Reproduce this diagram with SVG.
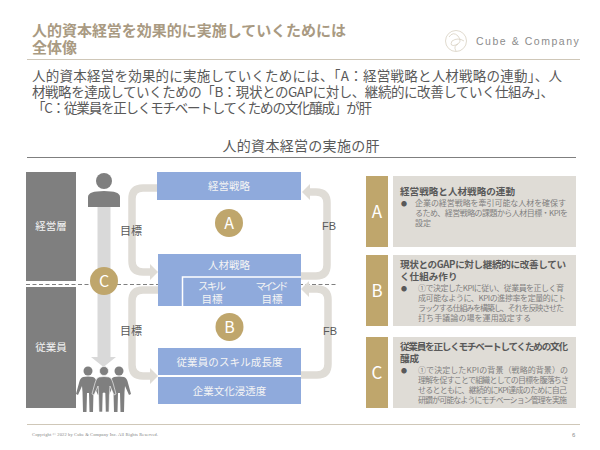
<svg xmlns="http://www.w3.org/2000/svg" width="600" height="450" viewBox="0 0 600 450">
<style>
text{font-family:"Noto Sans CJK JP","Noto Sans",sans-serif}
.title{font-size:15px;font-weight:700;fill:#a99a82}
.body{font-size:13.5px;fill:#595959}
.gray{fill:#7f7f7f}
.blue{fill:#8faadc}
.w{fill:#fff;text-anchor:middle}
.wl{font-size:10.500px;fill:#f4f4f4;text-anchor:middle}
.gold{fill:#bfa66c}
.panel{fill:#dfdcd6}
.pt{font-size:9.600px;font-weight:700;fill:#595959}
.pb{font-size:8px;fill:#7f7f7f}
.bu{font-size:6px;fill:#595959}
.lab{font-size:11px;fill:#595959;text-anchor:middle}
.conn{fill:none;stroke:#dfdcd6;stroke-width:7.500;marker-end:url(#ah)}
</style>
<defs>
<marker id="ah" viewBox="0 0 8 16" refX="1" refY="8" markerUnits="userSpaceOnUse" markerWidth="8" markerHeight="16" orient="auto"><path d="M0 0L8 8L0 16Z" fill="#dfdcd6"/></marker>
<g id="man"><circle cx="0" cy="-28" r="4.500"/><path d="M-5-22Q0-23 5-22Q8-21 9-16L12-5L10-4L6-13L5.500-7L5 13H1.500L1-6H-1L-1.500 13H-5L-5.500-7L-6-13L-10-4L-12-5L-9-16Q-8-21-5-22Z"/></g>
</defs>
<rect width="600" height="450" fill="#fff"/>
<g id="header">
<text class="title" x="32" y="36" textLength="314">人的資本経営を効果的に実施していくためには</text>
<text class="title" x="32" y="52.500">全体像</text>
<g fill="none" stroke="#d8d0c2" stroke-width="0.800"><circle cx="456" cy="41" r="10.500"/><path d="M449 37Q453 31 458 36Q463 42 456 45Q449 47 452 41Q458 37 464 41M456 51Q453 46 458 44"/></g>
<text x="476" y="45" font-size="10.500" letter-spacing="1.200" fill="#8c8c8c" style="font-family:'Liberation Sans',sans-serif" textLength="104">Cube &amp; Company</text>
<line x1="27" y1="59.500" x2="580" y2="59.500" stroke="#cfc7b8" stroke-width="1"/>
</g>
<g id="intro">
<text class="body" x="32" y="81" textLength="530">人的資本経営を効果的に実施していくためには、「A：経営戦略と人材戦略の連動」、人</text>
<text class="body" x="32" y="97" textLength="522">材戦略を達成していくための「B：現状とのGAPに対し、継続的に改善していく仕組み」、</text>
<text class="body" x="32" y="113" textLength="340">「C：従業員を正しくモチベートしてくための文化醸成」が肝</text>
<text x="301" y="151" font-size="14px" fill="#595959" text-anchor="middle" textLength="157">人的資本経営の実施の肝</text>
<line x1="27" y1="157.500" x2="576" y2="157.500" stroke="#7f7f7f" stroke-width="1"/>
</g>
<g id="layers">
<g id="keiei"><rect class="gray" x="26" y="172" width="50" height="109"/><text class="wl" x="51" y="230">経営層</text></g>
<g id="jugyoin"><rect class="gray" x="26" y="287" width="50" height="121"/><text class="wl" x="51" y="351">従業員</text></g>
<line x1="26" y1="284.500" x2="336" y2="284.500" stroke="#7f7f7f" stroke-width="1" stroke-dasharray="4 2.500"/>
</g>
<g id="connectors">
<path d="M104 207V358" stroke="#d9d9d9" stroke-width="13" fill="none"/>
<path d="M91 357H116L103.500 367Z" fill="#d9d9d9"/>
<path class="conn" d="M157 188H143Q132 188 132 199V261Q132 272 143 272H151"/>
<path class="conn" d="M158 290H143Q132 290 132 301V365Q132 376 143 376H151"/>
<path class="conn" d="M301 276H316Q327 276 327 265V203Q327 192 316 192H309"/>
<path class="conn" d="M301 375H317Q328 375 328 364V300Q328 289 317 289H308"/>
</g>
<g id="person" class="gray"><circle cx="104" cy="181" r="8"/><path d="M88 207V197Q88 191 104 191Q120 191 120 197V207Z"/></g>
<g id="people" class="gray"><use href="#man" x="119" y="399"/><use href="#man" x="88" y="399"/><use href="#man" x="104" y="399" stroke="#fff" stroke-width="0.600"/></g>
<g id="c"><circle class="gold" cx="104" cy="281" r="14"/><text class="w" x="104" y="287" font-size="16">C</text></g>
<g id="a"><circle class="gold" cx="229" cy="223" r="14"/><text class="w" x="229" y="229" font-size="16">A</text></g>
<g id="b"><circle class="gold" cx="229.500" cy="327" r="14"/><text class="w" x="229.500" y="333" font-size="16">B</text></g>
<g id="strategy"><rect class="blue" x="157" y="172" width="144" height="28"/><text class="wl" x="229" y="190">経営戦略</text></g>
<g id="hr"><rect class="blue" x="158" y="254" width="143" height="52"/><path d="M182.500 306V277H301" fill="none" stroke="#fff" stroke-width="1.500"/><text class="wl" x="229" y="269">人材戦略</text></g>
<g id="skill"><rect class="blue" x="184.500" y="278" width="55" height="28"/><text class="wl" x="212" y="289.500" textLength="28">スキル</text><text class="wl" x="212" y="303">目標</text></g>
<g id="mind"><rect class="blue" x="244" y="278" width="56" height="28"/><text class="wl" x="272" y="289.500" textLength="33">マインド</text><text class="wl" x="272" y="303">目標</text></g>
<g id="growth"><rect class="blue" x="158" y="348" width="143" height="27"/><text class="wl" x="229.500" y="365.500" textLength="106">従業員のスキル成長度</text></g>
<g id="culture"><rect class="blue" x="158" y="377" width="143" height="27"/><text class="wl" x="229.500" y="395">企業文化浸透度</text></g>
<g id="labels">
<text class="lab" x="131" y="235">目標</text><text class="lab" x="131" y="335">目標</text>
<text class="lab" x="329" y="230" style="font-family:'Liberation Sans',sans-serif">FB</text><text class="lab" x="330" y="335" style="font-family:'Liberation Sans',sans-serif">FB</text>
</g>
<g id="panel-a"><rect class="gold" x="366" y="176" width="22" height="71"/><rect class="panel" x="393" y="176" width="183" height="71"/><text class="w" x="377" y="218" font-size="17">A</text>
<text class="pt" x="400" y="195" textLength="115">経営戦略と人材戦略の連動</text>
<text class="bu" x="401" y="205.500">●</text>
<text class="pb" x="415" y="206" textLength="151">企業の経営戦略を牽引可能な人材を確保す</text>
<text class="pb" x="415" y="216" textLength="153">るため、経営戦略の課題から人材目標・KPIを</text>
<text class="pb" x="415" y="226">設定</text></g>
<g id="panel-b"><rect class="gold" x="366" y="255" width="22" height="71"/><rect class="panel" x="393" y="255" width="183" height="71"/><text class="w" x="377" y="297" font-size="17">B</text>
<text class="pt" x="400" y="268" textLength="166">現状とのGAPに対し継続的に改善してい</text>
<text class="pt" x="400" y="280">く仕組み作り</text>
<text class="bu" x="401" y="290.500">●</text>
<text class="pb" x="418" y="291" textLength="146">①で決定したKPIに従い、従業員を正しく育</text>
<text class="pb" x="418" y="301" textLength="148">成可能なように、KPIの進捗率を定量的にト</text>
<text class="pb" x="418" y="311" textLength="146">ラックする仕組みを構築し、それを反映させた</text>
<text class="pb" x="418" y="321" textLength="113">打ち手議論の場を運用設定する</text></g>
<g id="panel-c"><rect class="gold" x="366" y="337" width="22" height="71"/><rect class="panel" x="393" y="337" width="183" height="71"/><text class="w" x="377" y="379" font-size="17">C</text>
<text class="pt" x="400" y="350" textLength="168">従業員を正しくモチベートしてくための文化</text>
<text class="pt" x="400" y="362">醸成</text>
<text class="bu" x="401" y="372.500">●</text>
<text class="pb" x="418" y="373" textLength="150">①で決定したKPIの背景（戦略的背景）の</text>
<text class="pb" x="418" y="383" textLength="151">理解を促すことで組織としての目標を腹落ちさ</text>
<text class="pb" x="418" y="393" textLength="149">せるとともに、継続的にKPI達成のために自己</text>
<text class="pb" x="418" y="403" textLength="149">研鑽が可能なようにモチベーション管理を実施</text></g>
<g id="footer">
<line x1="27" y1="424.500" x2="580" y2="424.500" stroke="#cfc7b8" stroke-width="1"/>
<text x="32" y="435.500" font-size="4.500" fill="#7f7f7f" style="font-family:'Liberation Serif',serif" textLength="126">Copyright © 2022 by Cube &amp; Company Inc. All Rights Reserved.</text>
<text x="572" y="437" font-size="6" fill="#8c8c8c" style="font-family:'Liberation Sans',sans-serif">6</text>
</g>
</svg>
